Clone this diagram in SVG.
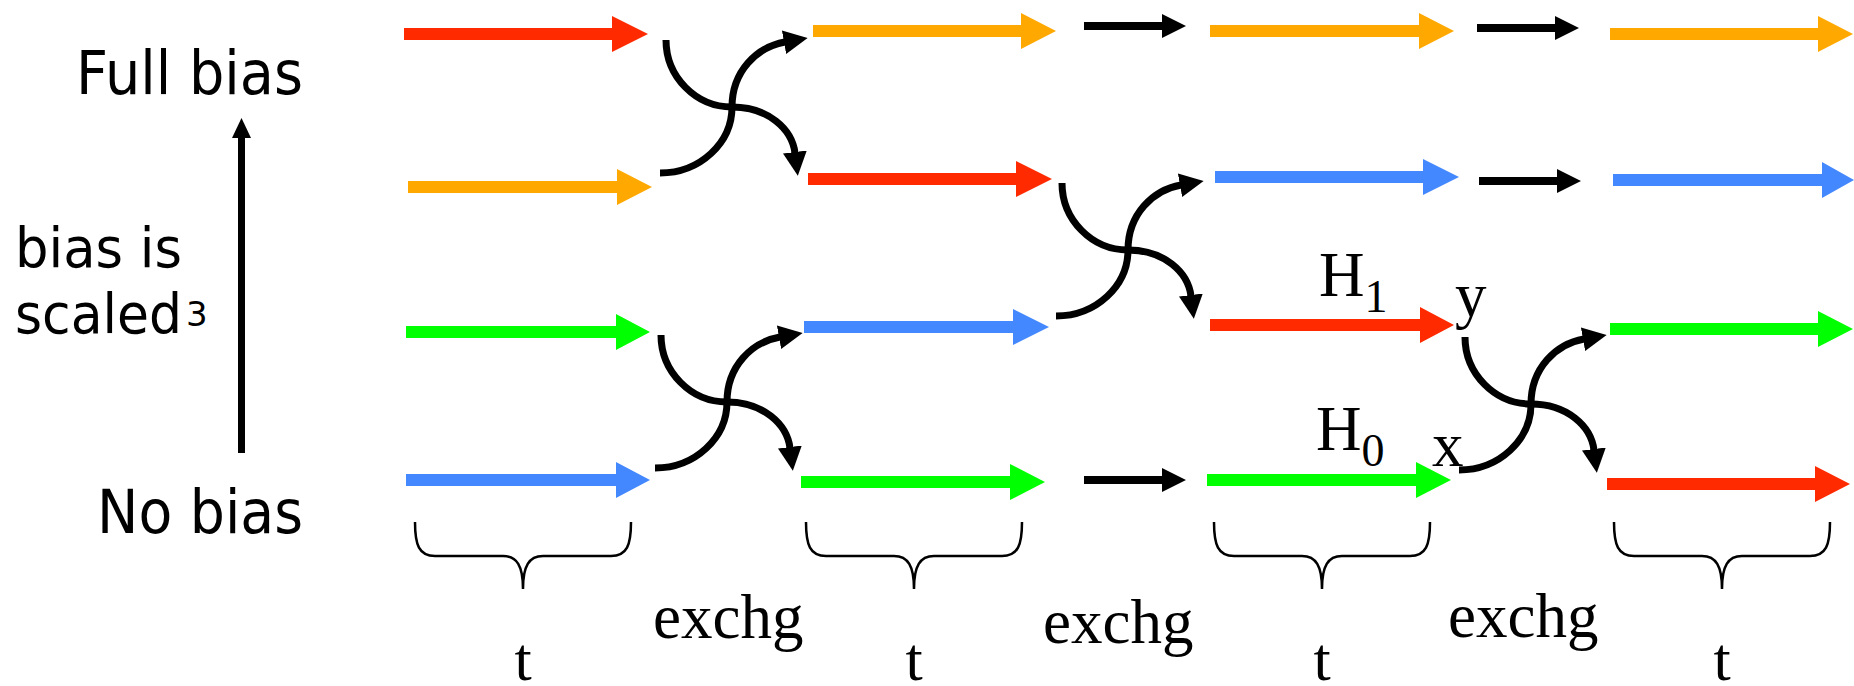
<svg xmlns="http://www.w3.org/2000/svg" width="1854" height="686" viewBox="0 0 1854 686">
<style>
.red{fill:#FF2A00}.org{fill:#FFA800}.grn{fill:#00FF00}.blu{fill:#4488FF}.blk{fill:#000}
.sans{font-family:"DejaVu Sans","Verdana",sans-serif;fill:#000}
.serif{font-family:"Liberation Serif","Times New Roman",serif;fill:#000}
.xch{fill:none;stroke:#000;stroke-width:7;marker-end:url(#ah)}
.brace{fill:none;stroke:#000;stroke-width:2.5}
</style>
<defs>
<marker id="ah" markerUnits="userSpaceOnUse" markerWidth="24" markerHeight="24" viewBox="0 0 24 24" refX="1" refY="12" orient="auto"><path d="M0,0 L24,12 L0,24 z" fill="#000"/></marker>
<g id="swap">
<path class="xch" d="M-66,-67 C-66,-30 -36,0 0,0 C36,0 60,22 63,46"/>
<path class="xch" d="M-72,66 C-32,66 0,36 0,0 C0,-36 25,-60 53,-65"/>
</g>
<path id="brace" class="brace" d="M0,0 C0,23 4,34 20,34 L88,34 C102,34 108,44 108,67 C108,44 114,34 128,34 L196,34 C212,34 216,23 216,0"/>
</defs>

<g id="labels">
<text class="sans" x="76" y="94" font-size="60" textLength="227" lengthAdjust="spacingAndGlyphs">Full bias</text>
<text class="sans" x="15" y="267" font-size="56" textLength="167" lengthAdjust="spacingAndGlyphs">bias is</text>
<text class="sans" x="15" y="333" font-size="56" textLength="167" lengthAdjust="spacingAndGlyphs">scaled</text>
<text class="sans" x="186" y="326" font-size="34">3</text>
<text class="sans" x="97" y="533" font-size="60" textLength="206" lengthAdjust="spacingAndGlyphs">No bias</text>
<line x1="241.5" y1="453" x2="241.5" y2="136" stroke="#000" stroke-width="7"/>
<polygon class="blk" points="232,138 241.5,118 251,138"/>
</g>

<g id="row1">
<polygon class="red" points="404,28 612,28 612,16 648,34 612,52 612,40 404,40"/>
<polygon class="org" points="813,25 1021,25 1021,13 1056,31 1021,49 1021,37 813,37"/>
<polygon class="blk" points="1084,22 1162,22 1162,14 1186,26 1162,38 1162,30 1084,30"/>
<polygon class="org" points="1210,25 1419,25 1419,13 1454,31 1419,49 1419,37 1210,37"/>
<polygon class="blk" points="1477,24 1555,24 1555,16 1579,28 1555,40 1555,32 1477,32"/>
<polygon class="org" points="1610,28 1818,28 1818,16 1853,34 1818,52 1818,40 1610,40"/>
</g>
<g id="row2">
<polygon class="org" points="408,181 617,181 617,169 652,187 617,205 617,193 408,193"/>
<polygon class="red" points="808,173 1016,173 1016,161 1052,179 1016,197 1016,185 808,185"/>
<polygon class="blu" points="1215,171 1423,171 1423,159 1459,177 1423,195 1423,183 1215,183"/>
<polygon class="blk" points="1479,177 1557,177 1557,169 1581,181 1557,193 1557,185 1479,185"/>
<polygon class="blu" points="1613,174 1822,174 1822,162 1854,180 1822,198 1822,186 1613,186"/>
</g>
<g id="row3">
<polygon class="grn" points="406,326 616,326 616,314 650,332 616,350 616,338 406,338"/>
<polygon class="blu" points="804,321 1013,321 1013,309 1049,327 1013,345 1013,333 804,333"/>
<polygon class="red" points="1210,319 1420,319 1420,307 1454,325 1420,343 1420,331 1210,331"/>
<polygon class="grn" points="1610,323 1818,323 1818,311 1853,329 1818,347 1818,335 1610,335"/>
<text class="serif" x="1319" y="296" font-size="63">H<tspan font-size="46" dy="16">1</tspan></text>
<text class="serif" x="1455" y="316" font-size="63">y</text>
</g>
<g id="row4">
<polygon class="blu" points="406,474 616,474 616,462 650,480 616,498 616,486 406,486"/>
<polygon class="grn" points="801,476 1010,476 1010,464 1045,482 1010,500 1010,488 801,488"/>
<polygon class="blk" points="1084,476 1162,476 1162,468 1186,480 1162,492 1162,484 1084,484"/>
<polygon class="grn" points="1207,474 1416,474 1416,462 1451,480 1416,498 1416,486 1207,486"/>
<polygon class="red" points="1607,478 1815,478 1815,466 1850,484 1815,502 1815,490 1607,490"/>
<text class="serif" x="1316" y="450" font-size="63">H<tspan font-size="46" dy="16">0</tspan></text>
<text class="serif" x="1432" y="466" font-size="63">x</text>
</g>

<g id="connectors">
<use href="#swap" transform="translate(732,107)"/>
<use href="#swap" transform="translate(727,402)"/>
<use href="#swap" transform="translate(1128,250)"/>
<use href="#swap" transform="translate(1531,404)"/>
</g>

<g id="timeline">
<use href="#brace" transform="translate(415,522)"/>
<use href="#brace" transform="translate(806,522)"/>
<use href="#brace" transform="translate(1214,522)"/>
<use href="#brace" transform="translate(1614,522)"/>
<text class="serif" x="523" y="680" font-size="62" text-anchor="middle">t</text>
<text class="serif" x="914" y="680" font-size="62" text-anchor="middle">t</text>
<text class="serif" x="1322" y="680" font-size="62" text-anchor="middle">t</text>
<text class="serif" x="1722" y="680" font-size="62" text-anchor="middle">t</text>
<text class="serif" x="653" y="638" font-size="63">exchg</text>
<text class="serif" x="1043" y="643" font-size="63">exchg</text>
<text class="serif" x="1448" y="637" font-size="63">exchg</text>
</g>
</svg>
